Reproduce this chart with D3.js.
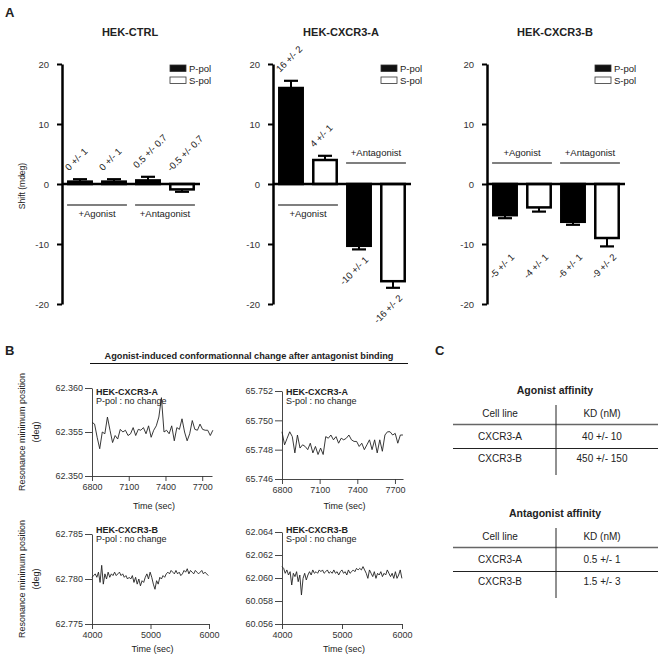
<!DOCTYPE html>
<html>
<head>
<meta charset="utf-8">
<script src="https://cdn.jsdelivr.net/npm/d3@7"></script>
<style>
  body { margin: 0; background: #fff; }
  text { font-family: 'Liberation Sans', Arial, sans-serif; }
</style>
</head>
<body>
<div id="app"></div>
<script>
// ---- panel A data ----
const conditions = ['P-pol agonist', 'S-pol agonist', 'P-pol antagonist', 'S-pol antagonist'];
const polarisation = ['P', 'S', 'P', 'S'];
const groupNames = ['+Agonist', '+Antagonist'];

const ctrlShift = [0.4, 0.4, 0.6, -0.9];
const ctrlErr = [0.4, 0.4, 0.6, 0.4];
const ctrlLabels = ['0 +/- 1', '0 +/- 1', '0.5 +/- 0.7', '-0.5 +/- 0.7'];

const cxcr3aShift = [16, 4, -10.3, -16.2];
const cxcr3aErr = [1.2, 0.7, 0.6, 1.1];
const cxcr3aLabels = ['16 +/- 2', '4 +/- 1', '-10 +/- 1', '-16 +/- 2'];

const cxcr3bShift = [-5.2, -3.9, -6.3, -9.0];
const cxcr3bErr = [0.5, 0.7, 0.5, 1.4];
const cxcr3bLabels = ['-5 +/- 1', '-4 +/- 1', '-6 +/- 1', '-9 +/- 2'];

const shiftTicks = [20, 10, 0, -10, -20];

// ---- panel B data (resonance minimum position, deg) ----
const aPpolStart = 6800, aPpolStep = 21;
const aPpol = [62.3561, 62.3559, 62.3544, 62.3531, 62.3550, 62.3548, 62.3567, 62.3552, 62.3538, 62.3546,
  62.3542, 62.3553, 62.3550, 62.3552, 62.3546, 62.3548, 62.3555, 62.3546, 62.3553, 62.3552,
  62.3555, 62.3548, 62.3557, 62.3544, 62.3552, 62.3557, 62.3567, 62.3589, 62.3550, 62.3552,
  62.3548, 62.3557, 62.3540, 62.3555, 62.3553, 62.3565, 62.3550, 62.3540, 62.3548, 62.3563,
  62.3553, 62.3552, 62.3559, 62.3553, 62.3552, 62.3552, 62.3546, 62.3552];

const aSpolStart = 6800, aSpolStep = 20.5;
const aSpol = [65.74922, 65.74833, 65.74878, 65.74922, 65.74889, 65.74778, 65.74900, 65.74811, 65.74833, 65.74822,
  65.74800, 65.74844, 65.74778, 65.74822, 65.74767, 65.74811, 65.74767, 65.74889, 65.74878, 65.74900,
  65.74867, 65.74889, 65.74844, 65.74878, 65.74867, 65.74878, 65.74900, 65.74867, 65.74856, 65.74856,
  65.74822, 65.74844, 65.74800, 65.74833, 65.74867, 65.74800, 65.74867, 65.74778, 65.74867, 65.74789,
  65.74900, 65.74922, 65.74922, 65.74900, 65.74911, 65.74844, 65.74900, 65.74900];

const bPpolStart = 4000, bPpolStep = 27.6;
const bPpol = [62.78019, 62.78038, 62.78057, 62.78019, 62.78076, 62.77962, 62.78152, 62.77943, 62.78057, 62.78000,
  62.78076, 62.78019, 62.78057, 62.78038, 62.78076, 62.78038, 62.78057, 62.78076, 62.78038, 62.78057,
  62.78019, 62.78038, 62.78000, 62.78019, 62.78000, 62.78038, 62.77962, 62.78019, 62.77943, 62.78000,
  62.77924, 62.77981, 62.77962, 62.78019, 62.78057, 62.78000, 62.78076, 62.78019, 62.77943, 62.77886,
  62.77981, 62.77943, 62.78019, 62.78000, 62.78038, 62.78019, 62.78057, 62.78076, 62.78057, 62.78095,
  62.78076, 62.78057, 62.78095, 62.78057, 62.78076, 62.78038, 62.78057, 62.78095, 62.78076, 62.78114,
  62.78057, 62.78095, 62.78076, 62.78057, 62.78095, 62.78076, 62.78057, 62.78076, 62.78095, 62.78057,
  62.78076, 62.78057, 62.78038];

const bSpolStart = 4000, bSpolStep = 27;
const bSpol = [62.06099, 62.06084, 62.06041, 62.06070, 62.06026, 62.06055, 62.05939, 62.06041, 62.06012, 62.06055,
  62.05968, 62.06026, 62.05852, 62.05997, 62.06041, 62.05983, 62.06026, 62.06055, 62.06026, 62.06070,
  62.06041, 62.06055, 62.06041, 62.06070, 62.06055, 62.06070, 62.06041, 62.06055, 62.06070, 62.06041,
  62.06055, 62.06041, 62.06070, 62.06041, 62.06055, 62.06026, 62.06055, 62.06070, 62.06041, 62.06055,
  62.06026, 62.06070, 62.06041, 62.06055, 62.06070, 62.06055, 62.06084, 62.06070, 62.06084, 62.06070,
  62.06099, 62.06070, 62.06041, 62.05997, 62.06070, 62.06041, 62.06012, 62.06055, 62.05997, 62.06041,
  62.06026, 62.06055, 62.06012, 62.06041, 62.06026, 62.06070, 62.06041, 62.06012, 62.06041, 62.05997,
  62.06055, 62.05997, 62.06026, 62.06070, 62.05997];

const aPpolTicks = [62.350, 62.355, 62.360];
const aSpolTicks = [65.746, 65.748, 65.750, 65.752];
const bPpolTicks = [62.775, 62.780, 62.785];
const bSpolTicks = [62.056, 62.058, 62.060, 62.062, 62.064];
const bSpolTickLabels = ['60.056', '60.058', '62.060', '62.062', '62.064'];
const timeTicksA = [6800, 7100, 7400, 7700];
const timeTicksB = [4000, 5000, 6000];

// ---- panel C data ----
const tableHeader = ['Cell line', 'KD (nM)'];
const cellLines = ['CXCR3-A', 'CXCR3-B'];
const agonistKD = ['40 +/- 10', '450 +/- 150'];
const antagonistKD = ['0.5 +/- 1', '1.5 +/- 3'];

const W = 660, H = 658;
const svg = d3.select('#app').append('svg').attr('width', W).attr('height', H);

const panelLetter = (x, y, t) => svg.append('text').attr('x', x).attr('y', y)
  .attr('font-size', 13).attr('font-weight', 'bold').attr('fill', '#222').text(t);

// ================= Panel A =================
panelLetter(5, 17, 'A');

const yShift = d3.scaleLinear().domain([-20, 20]).range([304, 64]);

const barPanels = [
  { title: 'HEK-CTRL', x0: 62, shift: ctrlShift, err: ctrlErr, labels: ctrlLabels, sides: ['below', 'below'], yLabel: true },
  { title: 'HEK-CXCR3-A', x0: 273, shift: cxcr3aShift, err: cxcr3aErr, labels: cxcr3aLabels, sides: ['below', 'above'] },
  { title: 'HEK-CXCR3-B', x0: 487, shift: cxcr3bShift, err: cxcr3bErr, labels: cxcr3bLabels, sides: ['above', 'above'] },
];

barPanels.forEach((p) => {
  const g = svg.append('g');
  const x = d3.scaleBand().domain(conditions).range([p.x0 + 1, p.x0 + 137])
    .paddingInner(0.24).paddingOuter(0.12);
  const bw = x.bandwidth();
  const data = conditions.map((c, i) => ({ c, pol: polarisation[i], v: p.shift[i], e: p.err[i], label: p.labels[i] }));

  g.append('text').attr('x', p.x0 + 68).attr('y', 36).attr('text-anchor', 'middle')
    .attr('font-size', 11).attr('font-weight', 'bold').attr('fill', '#222').text(p.title);

  // y axis
  const ax = g.append('g').attr('transform', `translate(${p.x0},0)`)
    .call(d3.axisLeft(yShift).tickValues(shiftTicks).tickFormat((d) => String(d)).tickSize(5).tickPadding(8).tickSizeOuter(0));
  ax.select('.domain').attr('stroke-width', 2.5).attr('stroke', '#000');
  ax.selectAll('.tick line').attr('stroke-width', 2).attr('stroke', '#000');
  ax.selectAll('.tick text').attr('font-size', 9.5).attr('fill', '#333')
    .style('font-family', "'Liberation Sans', Arial, sans-serif");

  if (p.yLabel) {
    g.append('text').attr('transform', `translate(25,${yShift(0) + 2}) rotate(-90)`)
      .attr('text-anchor', 'middle').attr('font-size', 8.5).attr('fill', '#222').text('Shift (mdeg)');
  }

  // error bars (only the outer half is visible)
  const tip = (d) => (d.v >= 0 ? d.v + d.e : d.v - d.e);
  g.selectAll('line.err').data(data).join('line').attr('class', 'err')
    .attr('x1', (d) => x(d.c) + bw / 2).attr('x2', (d) => x(d.c) + bw / 2)
    .attr('y1', (d) => yShift(d.v)).attr('y2', (d) => yShift(tip(d)))
    .attr('stroke', '#000').attr('stroke-width', 2);
  g.selectAll('line.cap').data(data).join('line').attr('class', 'cap')
    .attr('x1', (d) => x(d.c) + bw / 2 - 7).attr('x2', (d) => x(d.c) + bw / 2 + 7)
    .attr('y1', (d) => yShift(tip(d))).attr('y2', (d) => yShift(tip(d)))
    .attr('stroke', '#000').attr('stroke-width', 2.2);

  // bars
  g.selectAll('rect.bar').data(data).join('rect').attr('class', 'bar')
    .attr('x', (d) => x(d.c) + 1.2).attr('width', bw - 2.4)
    .attr('y', (d) => yShift(Math.max(0, d.v)))
    .attr('height', (d) => Math.abs(yShift(d.v) - yShift(0)))
    .attr('fill', (d) => (d.pol === 'P' ? '#000' : '#fff'))
    .attr('stroke', '#000').attr('stroke-width', 2.5);

  // zero line
  g.append('line').attr('x1', p.x0).attr('x2', p.x0 + 138)
    .attr('y1', yShift(0)).attr('y2', yShift(0)).attr('stroke', '#000').attr('stroke-width', 2.5);

  // value labels
  g.selectAll('text.val').data(data).join('text').attr('class', 'val')
    .attr('font-size', 9.5).attr('fill', '#222')
    .attr('text-anchor', (d) => (d.v > -2 ? 'start' : 'end'))
    .attr('transform', (d) => {
      if (d.v > -2) {
        const ty = Math.min(yShift(Math.max(0, tip(d))) - 8, yShift(2));
        return `translate(${x(d.c) + 2},${ty}) rotate(-45)`;
      }
      const ty = Math.max(yShift(tip(d)) + 11, yShift(-12.3));
      return `translate(${x(d.c) + bw - 3},${ty}) rotate(-45)`;
    })
    .text((d) => d.label);

  // treatment group brackets
  groupNames.forEach((name, gi) => {
    const xa = x(conditions[gi * 2]);
    const xb = x(conditions[gi * 2 + 1]) + bw;
    const below = p.sides[gi] === 'below';
    const ly = below ? yShift(-3.5) : yShift(3.5);
    g.append('line').attr('x1', xa).attr('x2', xb).attr('y1', ly).attr('y2', ly)
      .attr('stroke', '#555').attr('stroke-width', 1.5);
    g.append('text').attr('x', (xa + xb) / 2).attr('y', below ? ly + 12 : ly - 7)
      .attr('text-anchor', 'middle').attr('font-size', 9.5).attr('fill', '#222').text(name);
  });

  // legend
  const lx = p.x0 + 108;
  ['P-pol', 'S-pol'].forEach((name, i) => {
    g.append('rect').attr('x', lx).attr('y', 65 + i * 12).attr('width', 16).attr('height', 6.5)
      .attr('fill', i === 0 ? '#111' : '#fff').attr('stroke', '#333').attr('stroke-width', 0.8);
    g.append('text').attr('x', lx + 19).attr('y', 72 + i * 12).attr('font-size', 9.5).attr('fill', '#222').text(name);
  });
});

// ================= Panel B =================
panelLetter(5, 355, 'B');
svg.append('text').attr('x', 249).attr('y', 359).attr('text-anchor', 'middle')
  .attr('font-size', 9.2).attr('font-weight', 'bold').attr('fill', '#222')
  .text('Agonist-induced conformationnal change after antagonist binding');
svg.append('line').attr('x1', 90).attr('x2', 408).attr('y1', 363.5).attr('y2', 363.5)
  .attr('stroke', '#111').attr('stroke-width', 1);

const traces = [
  { name: 'HEK-CXCR3-A', sub: 'P-pol : no change', vals: aPpol, t0: aPpolStart, dt: aPpolStep,
    xd: [6800, 7780], xr: [92, 212], yd: [62.350, 62.360], yr: [476, 388], yt: aPpolTicks, yf: d3.format('.3f'),
    xt: timeTicksA, tTop: 395, yLabel: true, timeY: 509 },
  { name: 'HEK-CXCR3-A', sub: 'S-pol : no change', vals: aSpol, t0: aSpolStart, dt: aSpolStep,
    xd: [6800, 7764], xr: [282, 403], yd: [65.746, 65.752], yr: [479, 391], yt: aSpolTicks, yf: d3.format('.3f'),
    xt: timeTicksA, tTop: 395, timeY: 509 },
  { name: 'HEK-CXCR3-B', sub: 'P-pol : no change', vals: bPpol, t0: bPpolStart, dt: bPpolStep,
    xd: [4000, 6000], xr: [92, 209], yd: [62.775, 62.785], yr: [624, 534], yt: bPpolTicks, yf: d3.format('.3f'),
    xt: timeTicksB, tTop: 533, yLabel: true, timeY: 652 },
  { name: 'HEK-CXCR3-B', sub: 'S-pol : no change', vals: bSpol, t0: bSpolStart, dt: bSpolStep,
    xd: [4000, 6000], xr: [282, 402], yd: [62.056, 62.064], yr: [624, 532], yt: bSpolTicks,
    yf: (d, i) => bSpolTickLabels[i], xt: timeTicksB, tTop: 533, timeY: 652 },
];

traces.forEach((tr) => {
  const g = svg.append('g');
  const x = d3.scaleLinear().domain(tr.xd).range(tr.xr);
  const y = d3.scaleLinear().domain(tr.yd).range(tr.yr);

  const styleAxis = (a) => {
    a.select('.domain').attr('stroke', '#333').attr('stroke-width', 0.9);
    a.selectAll('.tick line').attr('stroke', '#333').attr('stroke-width', 0.9);
    a.selectAll('.tick text').attr('font-size', 9).attr('fill', '#333')
      .style('font-family', "'Liberation Sans', Arial, sans-serif");
  };

  g.append('g').attr('transform', `translate(${tr.xr[0]},0)`)
    .call(d3.axisLeft(y).tickValues(tr.yt).tickFormat(tr.yf).tickSize(7).tickPadding(2).tickSizeOuter(0))
    .call(styleAxis);
  g.append('g').attr('transform', `translate(0,${tr.yr[0]})`)
    .call(d3.axisBottom(x).tickValues(tr.xt).tickFormat((d) => String(d)).tickSize(5).tickPadding(3).tickSizeOuter(0))
    .call(styleAxis);

  const line = d3.line().x((d, i) => x(tr.t0 + i * tr.dt)).y((d) => y(d));
  g.append('path').datum(tr.vals).attr('d', line)
    .attr('fill', 'none').attr('stroke', '#222').attr('stroke-width', 0.9);

  g.append('text').attr('x', tr.xr[0] + 4).attr('y', tr.tTop)
    .attr('font-size', 9).attr('font-weight', 'bold').attr('fill', '#222').text(tr.name);
  g.append('text').attr('x', tr.xr[0] + 4).attr('y', tr.tTop + 9)
    .attr('font-size', 9).attr('fill', '#222').text(tr.sub);

  g.append('text').attr('x', (tr.xr[0] + tr.xr[1]) / 2 + 2).attr('y', tr.timeY)
    .attr('text-anchor', 'middle').attr('font-size', 9).attr('fill', '#222').text('Time (sec)');

  if (tr.yLabel) {
    const cy = (tr.yr[0] + tr.yr[1]) / 2;
    g.append('text').attr('transform', `translate(25,${cy}) rotate(-90)`)
      .attr('text-anchor', 'middle').attr('font-size', 9).attr('fill', '#222').text('Resonance minimum position');
    g.append('text').attr('transform', `translate(39,${cy}) rotate(-90)`)
      .attr('text-anchor', 'middle').attr('font-size', 9).attr('fill', '#222').text('(deg)');
  }
});

// ================= Panel C =================
panelLetter(435, 355, 'C');

const tables = [
  { title: 'Agonist affinity', kd: agonistKD, top: 394 },
  { title: 'Antagonist affinity', kd: antagonistKD, top: 517 },
];
const colX = [500, 602];

tables.forEach((t) => {
  const g = svg.append('g');
  g.append('text').attr('x', 555).attr('y', t.top).attr('text-anchor', 'middle')
    .attr('font-size', 10.5).attr('font-weight', 'bold').attr('fill', '#222').text(t.title);
  tableHeader.forEach((h, i) => {
    g.append('text').attr('x', colX[i]).attr('y', t.top + 23).attr('text-anchor', 'middle')
      .attr('font-size', 10).attr('fill', '#222').text(h);
  });
  g.append('line').attr('x1', 453).attr('x2', 658).attr('y1', t.top + 30.5).attr('y2', t.top + 30.5)
    .attr('stroke', '#666').attr('stroke-width', 1.5);
  g.append('line').attr('x1', 453).attr('x2', 658).attr('y1', t.top + 54.5).attr('y2', t.top + 54.5)
    .attr('stroke', '#222').attr('stroke-width', 1);
  g.append('line').attr('x1', 556).attr('x2', 556).attr('y1', t.top + 11).attr('y2', t.top + 81)
    .attr('stroke', '#222').attr('stroke-width', 1);
  cellLines.forEach((c, r) => {
    const ry = t.top + 46 + r * 22;
    g.append('text').attr('x', colX[0]).attr('y', ry).attr('text-anchor', 'middle')
      .attr('font-size', 10).attr('fill', '#222').text(c);
    g.append('text').attr('x', colX[1]).attr('y', ry).attr('text-anchor', 'middle')
      .attr('font-size', 10).attr('fill', '#222').text(t.kd[r]);
  });
});
</script>
</body>
</html>
